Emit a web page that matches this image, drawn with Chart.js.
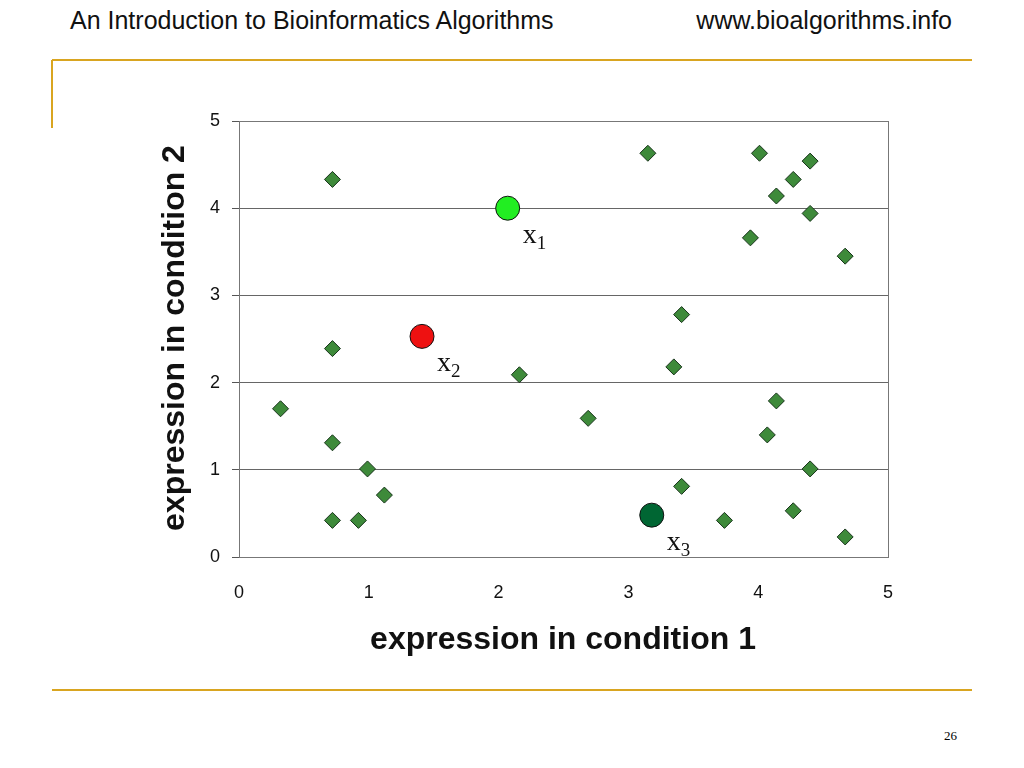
<!DOCTYPE html>
<html><head><meta charset="utf-8">
<script src="https://cdn.jsdelivr.net/npm/chart.js@4"></script>
<style>
body{margin:0;width:1024px;height:768px;background:#fff;position:relative;font-family:"Liberation Sans",Arial,sans-serif;overflow:hidden}
#c{position:absolute;left:0;top:0}
.t{position:absolute;font-size:25px;color:#111;top:6px}
.g{position:absolute;background:#d9a520}
</style></head><body>
<div class="t" style="left:70px">An Introduction to Bioinformatics Algorithms</div>
<div class="t" style="right:72px">www.bioalgorithms.info</div>
<div class="g" style="left:52px;top:59px;width:920px;height:2px"></div>
<div class="g" style="left:51px;top:60px;width:2px;height:68px"></div>
<div class="g" style="left:52px;top:689px;width:920px;height:2px"></div>
<div style="position:absolute;left:944px;top:728px;font-family:'Liberation Serif',serif;font-size:13px">26</div>
<canvas id="c" width="1024" height="768"></canvas>
<script>
const geneX=[0.72,3.15,4.01,4.40,4.27,4.14,4.40,3.94,4.67,3.41,0.72,3.35,2.16,0.32,2.69,4.14,4.07,0.72,0.99,4.40,1.12,3.41,0.72,0.92,3.74,4.27,4.67];
const geneY=[4.33,4.63,4.63,4.54,4.33,4.14,3.94,3.66,3.45,2.78,2.39,2.18,2.09,1.70,1.59,1.79,1.40,1.31,1.01,1.01,0.71,0.81,0.42,0.42,0.42,0.53,0.23];
const centerNames=['1','2','3'];
const centerX=[2.07,1.41,3.18];
const centerY=[4.00,2.53,0.48];
const centerColors=['#22ee22','#ee1111','#006633'];
const xTitle='expression in condition 1', yTitle='expression in condition 2';

const extras={id:'extras',afterDraw(ch){
 const c=ch.ctx,a=ch.chartArea,xs=ch.scales.x,ys=ch.scales.y;
 c.save();
 c.strokeStyle='#777';c.lineWidth=1;c.strokeRect(a.left+0.5,a.top+0.5,a.right-a.left,a.bottom-a.top);
 c.fillStyle='#111';c.font='bold 32px "Liberation Sans",Arial';c.textAlign='center';c.textBaseline='middle';
 c.fillText(xTitle,563,640);
 c.translate(175,338);c.rotate(-Math.PI/2);c.fillText(yTitle,0,0);
 c.restore();c.save();
 c.fillStyle='#111';c.textBaseline='alphabetic';
 centerNames.forEach((n,i)=>{
  const px=xs.getPixelForValue(centerX[i])+15,py=ys.getPixelForValue(centerY[i])+35;
  c.font='28px "Liberation Serif",serif';c.textAlign='left';c.fillText('x',px,py);
  const w=c.measureText('x').width;c.font='19px "Liberation Serif",serif';c.fillText(n,px+w,py+6);
 });
 c.restore();
}};
new Chart(document.getElementById('c'),{
 type:'scatter',
 data:{datasets:[
  {data:centerX.map((x,i)=>({x,y:centerY[i]})),pointRadius:12,pointHoverRadius:12,pointBackgroundColor:centerColors,pointBorderColor:'#111',pointBorderWidth:1},
  {data:geneX.map((x,i)=>({x,y:geneY[i]})),pointStyle:'rectRot',pointRadius:8,pointHoverRadius:8,pointBackgroundColor:'#3e8a3a',pointBorderColor:'#17331a',pointBorderWidth:1}
 ]},
 options:{responsive:false,animation:false,events:[],
  layout:{padding:{left:0,top:121,right:136,bottom:0}},
  plugins:{legend:{display:false},tooltip:{enabled:false}},
  scales:{
   x:{min:0,max:5,afterFit(s){s.height=211;},grid:{display:false,drawOnChartArea:false,drawTicks:true,tickLength:7,tickColor:'#555'},border:{color:'#555'},
      ticks:{stepSize:1,color:'#111',font:{size:18,family:'"Liberation Sans",Arial'},padding:18}},
   y:{min:0,max:5,afterFit(s){s.width=239;},grid:{color:'#666',tickLength:7,tickColor:'#555'},border:{color:'#555'},
      ticks:{stepSize:1,color:'#111',font:{size:18,family:'"Liberation Sans",Arial'},padding:12}}
  }},
 plugins:[extras]
});
</script></body></html>
